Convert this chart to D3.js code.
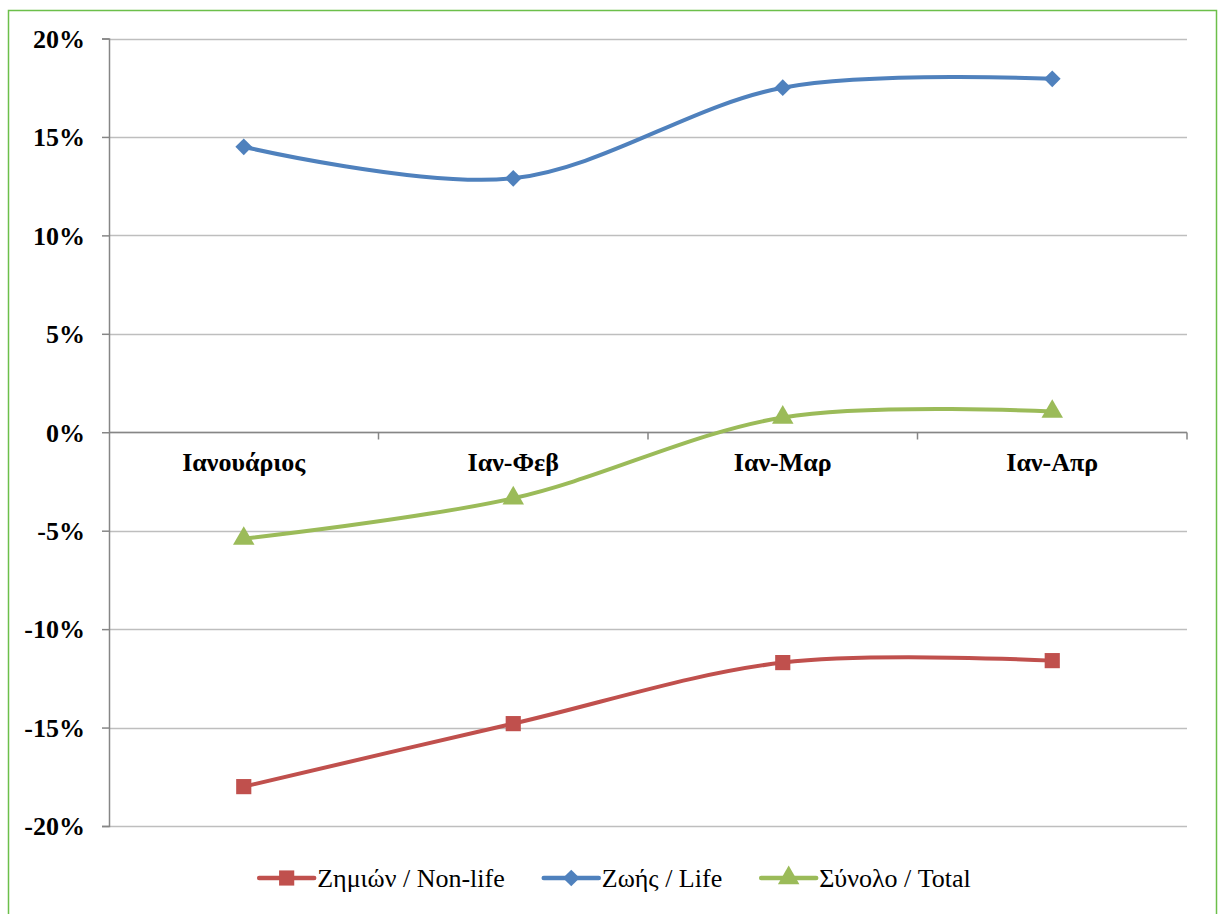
<!DOCTYPE html>
<html><head><meta charset="utf-8">
<script src="https://cdn.jsdelivr.net/npm/d3@7"></script>
<style>body{margin:0;background:#fff}svg{display:block}
svg text{font-family:"Liberation Serif","Times New Roman",Tinos,serif;}</style>
</head><body>
<svg id="c" width="1218" height="914" font-family="Liberation Serif"></svg>
<script>
const categories = ["Ιανουάριος","Ιαν-Φεβ","Ιαν-Μαρ","Ιαν-Απρ"];
const nonLife = [-18.0, -14.8, -11.7, -11.6];
const life = [14.5, 12.9, 17.5, 17.95];
const total = [-5.4, -3.35, 0.75, 1.05];
const yTicks = [-20,-15,-10,-5,0,5,10,15,20];
const seriesNames = ["Ζημιών / Non-life","Ζωής / Life","Σύνολο / Total"];
const seriesColors = ["#C0504D","#4F81BD","#9BBB59"];
const seriesSymbols = ["square","diamond","triangle"];

const FONT = '"Liberation Serif","Times New Roman",serif';
const svg = d3.select("#c");
svg.append("rect").attr("x",8.5).attr("y",10.5).attr("width",1208).attr("height",920)
  .attr("fill","#fff").attr("stroke","#6CBF4A").attr("stroke-width",1.5);

const L=109, R=1187, T=38.5, B=826;
const x = d3.scaleBand().domain(categories).range([L,R]);
const y = d3.scaleLinear().domain([-20,20]).range([B,T]);

svg.append("g").selectAll("line").data(yTicks).join("line")
  .attr("x1",L).attr("x2",R).attr("y1",d=>Math.round(y(d))+0.5).attr("y2",d=>Math.round(y(d))+0.5)
  .attr("stroke","#BEBEBE").attr("stroke-width",1.5);

const ya = svg.append("g").attr("transform",`translate(${L},0)`)
  .call(d3.axisLeft(y).tickValues(yTicks).tickSize(7).tickPadding(17).tickFormat(d=>d+"%"));
ya.attr("font-family",FONT).attr("font-size",26);
ya.select(".domain").attr("stroke","#868686").attr("stroke-width",1.5);
ya.selectAll(".tick line").attr("stroke","#868686").attr("stroke-width",1.5);
ya.selectAll(".tick text").style("font-family",FONT).style("font-weight","bold")
  .style("font-size","26px").attr("fill","#000").attr("dy","0.34em");

const x0 = Math.round(y(0))+0.5;
svg.append("line").attr("x1",L).attr("x2",R).attr("y1",x0).attr("y2",x0).attr("stroke","#868686").attr("stroke-width",1.5);
const bounds = categories.map((c,i)=>x(c)+x.bandwidth());
svg.append("g").selectAll("line").data(bounds).join("line")
  .attr("x1",d=>d).attr("x2",d=>d).attr("y1",x0).attr("y2",x0+7).attr("stroke","#868686").attr("stroke-width",1.5);
svg.selectAll("text.cat").data(categories).join("text").attr("class","cat")
  .attr("x",d=>x(d)+x.bandwidth()/2).attr("y",x0+38).attr("text-anchor","middle")
  .style("font-family",FONT).style("font-weight","bold").style("font-size","26px").text(d=>d);

const symMap = {square:d3.symbolSquare, diamond:d3.symbolSquare, triangle:d3.symbolTriangle};
const symSize = {square:230, diamond:140, triangle:200};
const symRot = {square:0, diamond:45, triangle:0};
const line = d3.line().x((d,i)=>x(categories[i])+x.bandwidth()/2).y(d=>y(d)).curve(d3.curveCatmullRom.alpha(0));
const data = [nonLife, life, total];
data.forEach((vals,si)=>{
  const s = seriesSymbols[si];
  svg.append("path").datum(vals).attr("d",line).attr("fill","none")
    .attr("stroke",seriesColors[si]).attr("stroke-width",4).attr("stroke-linejoin","round");
  svg.append("g").selectAll("path").data(vals).join("path")
    .attr("transform",(d,i)=>`translate(${x(categories[i])+x.bandwidth()/2},${y(d)}) rotate(${symRot[s]})`)
    .attr("d",d3.symbol(symMap[s],symSize[s]))
    .attr("fill",seriesColors[si]);
});

const legY = 878, lineLen = 55, textGap = 3, itemGap = 39, legCenter = 615;
const lg = svg.append("g");
const items = seriesNames.map((n,si)=>{
  const s = seriesSymbols[si];
  const g = lg.append("g");
  g.append("line").attr("x1",0).attr("x2",lineLen).attr("y1",legY).attr("y2",legY)
    .attr("stroke",seriesColors[si]).attr("stroke-width",4.5).attr("stroke-linecap","round");
  g.append("path").attr("transform",`translate(${lineLen/2},${legY}) rotate(${symRot[s]})`)
    .attr("d",d3.symbol(symMap[s],symSize[s]))
    .attr("fill",seriesColors[si]);
  const t = g.append("text").attr("x",lineLen+textGap).attr("y",legY+9)
    .style("font-family",FONT).style("font-size","26px").attr("fill","#000").text(n);
  return {g, w: lineLen+textGap+t.node().getComputedTextLength()};
});
const totalW = d3.sum(items,d=>d.w)+itemGap*(items.length-1);
let cx = legCenter-totalW/2;
items.forEach(it=>{ it.g.attr("transform",`translate(${cx},0)`); cx += it.w+itemGap; });
</script>
</body></html>
